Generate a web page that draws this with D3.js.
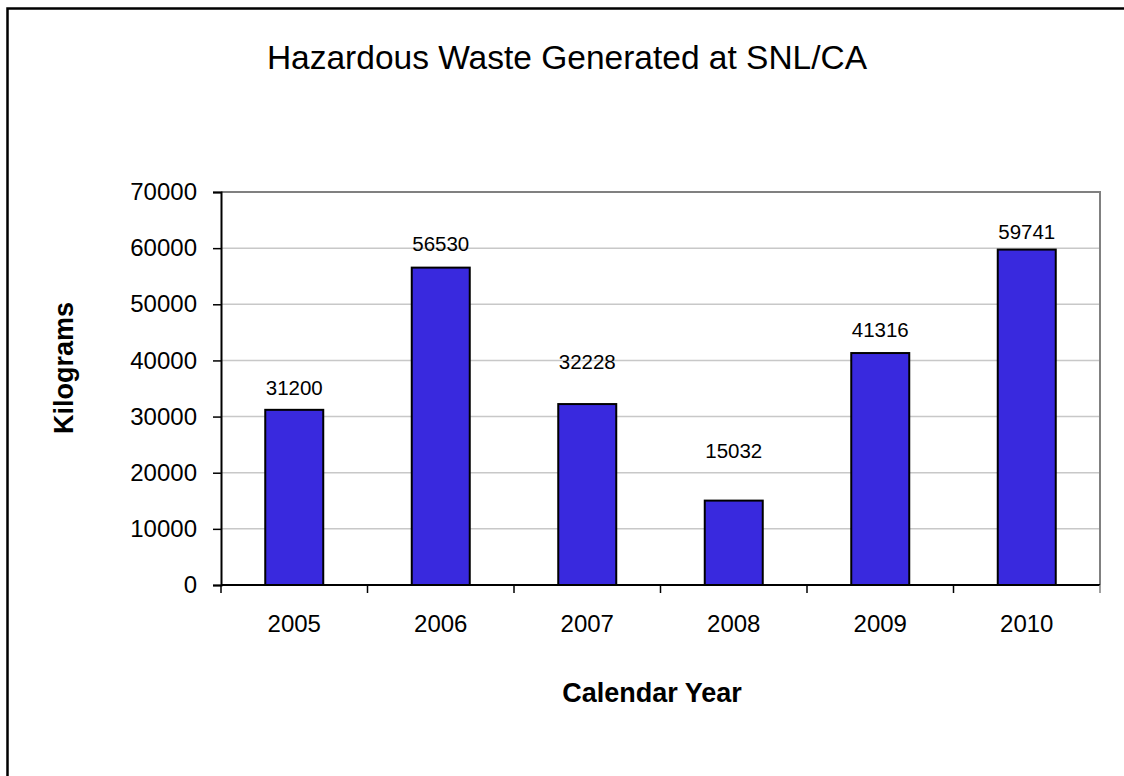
<!DOCTYPE html>
<meta charset="utf-8">
<style>
html, body { margin: 0; padding: 0; background: #fff; overflow: hidden; }
svg { display: block; }
text { font-family: "Liberation Sans", Arial, sans-serif; fill: #000; }
.grid line { stroke: #c8c8c8; stroke-width: 1.5px; }
.bar { fill: #3929de; stroke: #000; stroke-width: 2px; }
</style>
<svg width="1124" height="776"></svg>
<script src="https://d3js.org/d3.v7.min.js"></script>
<script>
// data
var years = ["2005", "2006", "2007", "2008", "2009", "2010"];
var kilograms = [31200, 56530, 32228, 15032, 41316, 59741];
var yTicks = [0, 10000, 20000, 30000, 40000, 50000, 60000, 70000];

// label lifts above each bar (the original labels were nudged by hand)
var labelLift = [22, 24, 42, 50, 23, 18];

var svg = d3.select("svg"),
    margin = {top: 192, right: 24, bottom: 191, left: 221},
    width = 1124 - margin.left - margin.right,
    height = 776 - margin.top - margin.bottom;

// outer frame, runs off the right and bottom edges
svg.append("path")
    .attr("d", "M7.5,800V8.5H1140")
    .attr("fill", "none").attr("stroke", "#000").attr("stroke-width", 2.5);

var g = svg.append("g").attr("transform", "translate(" + margin.left + "," + margin.top + ")");

var p = 1 - 58 / (width / years.length);
var x = d3.scaleBand().domain(years).range([0, width]).paddingInner(p).paddingOuter(p / 2);
var xb = d3.scaleLinear().domain([0, years.length]).range([0, width]);
var y = d3.scaleLinear().domain([0, 70000]).range([height, 0]);

// gridlines
g.append("g").attr("class", "grid")
  .selectAll("line")
  .data(yTicks.slice(1, -1))
  .enter().append("line")
    .attr("x1", 0).attr("x2", width)
    .attr("y1", function(d) { return y(d); })
    .attr("y2", function(d) { return y(d); });

// plot frame top / right in gray
g.append("path")
    .attr("d", "M0," + y(70000) + "H" + width + "V" + height)
    .attr("fill", "none").attr("stroke", "#808080").attr("stroke-width", 2);

// bars
g.selectAll(".bar")
  .data(kilograms)
  .enter().append("rect")
    .attr("class", "bar")
    .attr("x", function(d, i) { return x(years[i]); })
    .attr("width", x.bandwidth())
    .attr("y", function(d) { return y(d); })
    .attr("height", function(d) { return height - y(d); });

// value labels
g.selectAll(".val")
  .data(kilograms)
  .enter().append("text")
    .attr("class", "val")
    .attr("x", function(d, i) { return x(years[i]) + x.bandwidth() / 2; })
    .attr("y", function(d, i) { return y(d) - labelLift[i]; })
    .attr("dy", "0.35em")
    .attr("text-anchor", "middle")
    .style("font-size", "20.5px")
    .text(function(d) { return d; });

// y axis
var ya = g.append("g")
    .call(d3.axisLeft(y).tickValues(yTicks).tickFormat(d3.format("d")).tickSize(8).tickPadding(16));
ya.select(".domain").attr("stroke", "#000").attr("stroke-width", 2);
ya.selectAll(".tick line").attr("stroke", "#000").attr("stroke-width", 1.5);
ya.selectAll("text").style("font-size", "24px").attr("fill", "#000")
    .style("font-family", "Liberation Sans, Arial, sans-serif");

// x axis: ticks on band boundaries, labels centred in bands
var xa = g.append("g").attr("transform", "translate(0," + height + ")");
xa.append("line").attr("x1", 0).attr("x2", width)
    .attr("stroke", "#000").attr("stroke-width", 2);
xa.selectAll(".xt")
  .data(d3.range(years.length + 1))
  .enter().append("line")
    .attr("x1", function(d) { return xb(d); })
    .attr("x2", function(d) { return xb(d); })
    .attr("y1", 0).attr("y2", 8)
    .attr("stroke", function(d) { return d === years.length ? "#808080" : "#000"; })
    .attr("stroke-width", 1.5);
xa.selectAll(".xl")
  .data(years)
  .enter().append("text")
    .attr("x", function(d) { return x(d) + x.bandwidth() / 2; })
    .attr("y", 47)
    .attr("text-anchor", "middle")
    .style("font-size", "24px")
    .text(function(d) { return d; });

// titles
svg.append("text")
    .attr("x", 567).attr("y", 69)
    .attr("text-anchor", "middle")
    .style("font-size", "33.5px")
    .text("Hazardous Waste Generated at SNL/CA");

svg.append("text")
    .attr("x", 652).attr("y", 702)
    .attr("text-anchor", "middle")
    .style("font-size", "27px")
    .style("font-weight", "bold")
    .text("Calendar Year");

svg.append("text")
    .attr("transform", "translate(73,368) rotate(-90)")
    .attr("text-anchor", "middle")
    .style("font-size", "27px")
    .style("font-weight", "bold")
    .text("Kilograms");
</script>
